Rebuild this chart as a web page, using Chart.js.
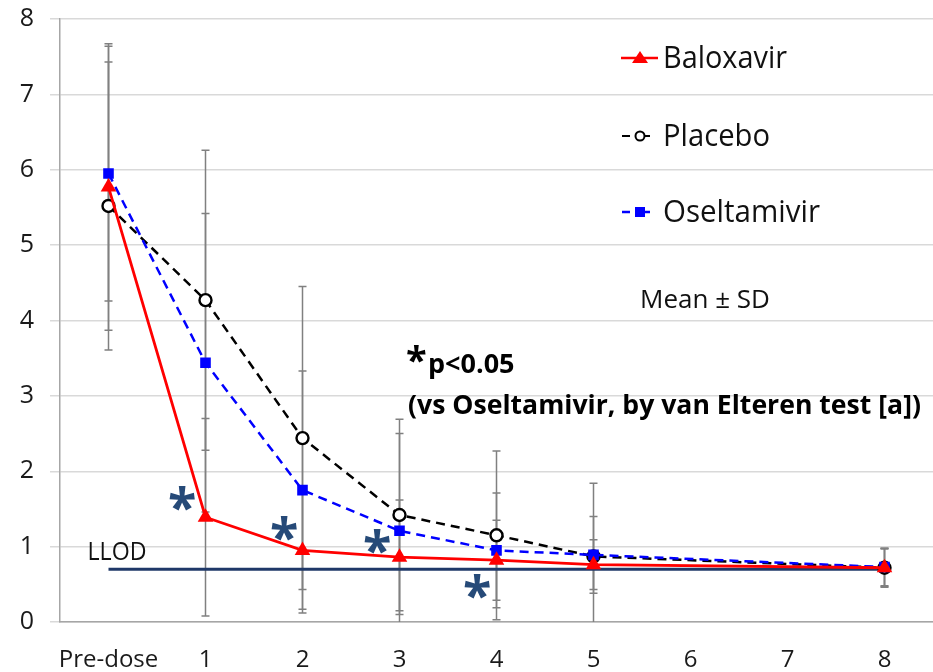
<!DOCTYPE html>
<html>
<head>
<meta charset="utf-8">
<script src="https://cdn.jsdelivr.net/npm/chart.js@4/dist/chart.umd.min.js"></script>
<style>
  html, body { margin: 0; padding: 0; background: #ffffff; }
  #wrap { width: 933px; height: 672px; }
</style>
</head>
<body>
<div id="wrap"><canvas id="c" width="933" height="672"></canvas></div>
<script>
// ---- data ----
const categories = ['Pre-dose', '1', '2', '3', '4', '5', '6', '7', '8'];
const baloxavir     = [5.77, 1.39, 0.95, 0.86, 0.82, 0.76, null, null, 0.72];
const placebo       = [5.52, 4.27, 2.44, 1.42, 1.15, 0.87, null, null, 0.72];
const oseltamivir   = [5.95, 3.44, 1.75, 1.21, 0.95, 0.89, null, null, 0.73];
const baloxavirSD   = [1.90, 1.31, 0.83, 0.76, 0.53, 0.33, null, null, 0.25];
const placeboSD     = [1.91, 1.99, 2.01, 1.27, 1.12, 0.97, null, null, 0.26];
const oseltamivirSD = [1.69, 1.98, 1.58, 1.29, 0.76, 0.51, null, null, 0.25];
const llodValue = 0.7;
const llod = categories.map(() => llodValue);
// significance asterisks (category position, value)
const sigX = [0.76, 1.81, 2.77, 3.80];
const sigY = [1.59, 1.19, 1.02, 0.42];
const yTicks = [0, 1, 2, 3, 4, 5, 6, 7, 8];

const FONT = "'Open Sans', 'Liberation Sans', sans-serif";

const errorBars = {
  id: 'errorBars',
  beforeDatasetsDraw(chart) {
    const { ctx, chartArea } = chart;
    const x = chart.scales.x, y = chart.scales.y;
    const sets = [[baloxavir, baloxavirSD], [placebo, placeboSD], [oseltamivir, oseltamivirSD]];
    ctx.save();
    ctx.strokeStyle = '#808080';
    ctx.lineWidth = 1.5;
    sets.forEach(([m, sd]) => {
      m.forEach((v, i) => {
        if (v == null || sd[i] == null) return;
        const px = x.getPixelForValue(i);
        const hi = y.getPixelForValue(v + sd[i]);
        let lo = y.getPixelForValue(v - sd[i]);
        const clipped = lo > chartArea.bottom;
        if (clipped) lo = chartArea.bottom;
        ctx.beginPath();
        ctx.moveTo(px, hi); ctx.lineTo(px, lo);
        ctx.moveTo(px - 4, hi); ctx.lineTo(px + 4, hi);
        if (!clipped) { ctx.moveTo(px - 4, lo); ctx.lineTo(px + 4, lo); }
        ctx.stroke();
      });
    });
    ctx.restore();
  }
};

const annotations = {
  id: 'annotations',
  afterDraw(chart) {
    const { ctx } = chart;
    const x = chart.scales.x, y = chart.scales.y;
    ctx.save();
    // LLOD label
    ctx.fillStyle = '#111';
    ctx.font = '25px ' + FONT;
    ctx.textAlign = 'left';
    ctx.textBaseline = 'alphabetic';
    ctx.fillText('LLOD', x.getPixelForValue(0) - 21, y.getPixelForValue(llodValue) - 9, 59);

    // significance asterisks
    ctx.fillStyle = '#264a78';
    ctx.font = 'bold 52px ' + FONT;
    ctx.textAlign = 'center';
    ctx.textBaseline = 'alphabetic';
    sigX.forEach((sx, k) => {
      const px = x.getPixelForValue(0) + sx * (x.getPixelForValue(1) - x.getPixelForValue(0));
      ctx.fillText('*', px, y.getPixelForValue(sigY[k]) + 24);
    });

    // p-value note
    ctx.fillStyle = '#000';
    ctx.textAlign = 'left';
    ctx.font = 'bold 38px ' + FONT;
    ctx.fillText('*', 406, 374);
    ctx.font = 'bold 27px ' + FONT;
    ctx.fillText('p<0.05', 428, 373, 90);
    ctx.font = 'bold 27px ' + FONT;
    ctx.fillText('(vs Oseltamivir, by van Elteren test [a])', 408, 414, 513);

    // legend
    const rows = [
      { label: 'Baloxavir', y: 58, color: '#ff0000', marker: 'tri', width: 124 },
      { label: 'Placebo', y: 136, color: '#000000', marker: 'circ', width: 107 },
      { label: 'Oseltamivir', y: 212, color: '#0000ff', marker: 'sq', width: 157 }
    ];
    rows.forEach(r => {
      ctx.strokeStyle = r.color;
      ctx.fillStyle = r.color;
      ctx.lineWidth = 2.5;
      ctx.beginPath();
      if (r.marker === 'tri') {
        ctx.moveTo(621, r.y); ctx.lineTo(658, r.y); ctx.stroke();
        ctx.beginPath();
        ctx.moveTo(640, r.y - 7); ctx.lineTo(648, r.y + 5); ctx.lineTo(632, r.y + 5); ctx.closePath(); ctx.fill();
      } else if (r.marker === 'circ') {
        ctx.lineWidth = 2;
        ctx.moveTo(622, r.y); ctx.lineTo(630, r.y); ctx.stroke();
        ctx.beginPath(); ctx.moveTo(645, r.y); ctx.lineTo(650, r.y); ctx.stroke();
        ctx.beginPath(); ctx.arc(640, r.y, 4.5, 0, Math.PI * 2);
        ctx.fillStyle = '#fff'; ctx.fill(); ctx.stroke();
      } else {
        ctx.moveTo(622, r.y); ctx.lineTo(630, r.y); ctx.stroke();
        ctx.beginPath(); ctx.moveTo(640, r.y); ctx.lineTo(650, r.y); ctx.stroke();
        ctx.fillRect(635, r.y - 5, 10, 10);
      }
      ctx.fillStyle = '#111';
      ctx.font = '31px ' + FONT;
      ctx.textBaseline = 'middle';
      ctx.fillText(r.label, 663, r.y + 1, r.width);
    });
    ctx.font = '26px ' + FONT;
    ctx.fillText('Mean \u00B1 SD', 640, 301, 137);
    ctx.restore();
  }
};

new Chart(document.getElementById('c'), {
  type: 'line',
  data: {
    labels: categories,
    datasets: [
      {
        label: 'LLOD', data: llod, borderColor: '#1f3868', borderWidth: 3,
        pointRadius: 0, fill: false, order: 4
      },
      {
        label: 'Placebo', data: placebo, borderColor: '#000000', borderWidth: 2.5,
        borderDash: [9, 6], pointStyle: 'circle', pointRadius: 6, pointBorderWidth: 2.4,
        pointBackgroundColor: '#ffffff', pointBorderColor: '#000000', spanGaps: true, order: 3
      },
      {
        label: 'Oseltamivir', data: oseltamivir, borderColor: '#0000ff', borderWidth: 2.5,
        borderDash: [9, 6], pointStyle: 'rect', pointRadius: 7.5, pointBorderWidth: 0,
        pointBackgroundColor: '#0000ff', spanGaps: true, order: 2
      },
      {
        label: 'Baloxavir', data: baloxavir, borderColor: '#ff0000', borderWidth: 2.8,
        pointStyle: 'triangle', pointRadius: 9, pointBorderWidth: 0,
        pointBackgroundColor: '#ff0000', spanGaps: true, order: 1
      }
    ]
  },
  options: {
    responsive: false,
    animation: false,
    devicePixelRatio: 1,
    layout: { autoPadding: false, padding: { top: 19, right: 0, left: 0, bottom: 0 } },
    plugins: { legend: { display: false }, tooltip: { enabled: false } },
    elements: { line: { tension: 0 } },
    scales: {
      x: {
        type: 'category',
        offset: true,
        grid: { display: false, drawTicks: false },
        border: { display: true, color: '#a6a6a6', width: 1.5 },
        ticks: { font: { family: FONT, size: 24 }, color: '#1a1a1a', padding: 24, maxRotation: 0, autoSkip: false },
        afterFit: s => { s.height = 50; s.paddingLeft = 0; s.paddingRight = 0; }
      },
      y: {
        min: 0, max: 8,
        afterBuildTicks: s => { s.ticks = yTicks.map(v => ({ value: v })); },
        grid: { color: '#d9d9d9', lineWidth: 1.5, tickLength: 10, tickColor: '#d9d9d9' },
        border: { display: true, color: '#a6a6a6', width: 1.5 },
        ticks: { font: { family: FONT, size: 25 }, color: '#1a1a1a', padding: 16 },
        afterFit: s => { s.width = 60; s.paddingTop = 0; s.paddingBottom = 0; }
      }
    }
  },
  plugins: [errorBars, annotations]
});
</script>
</body>
</html>
